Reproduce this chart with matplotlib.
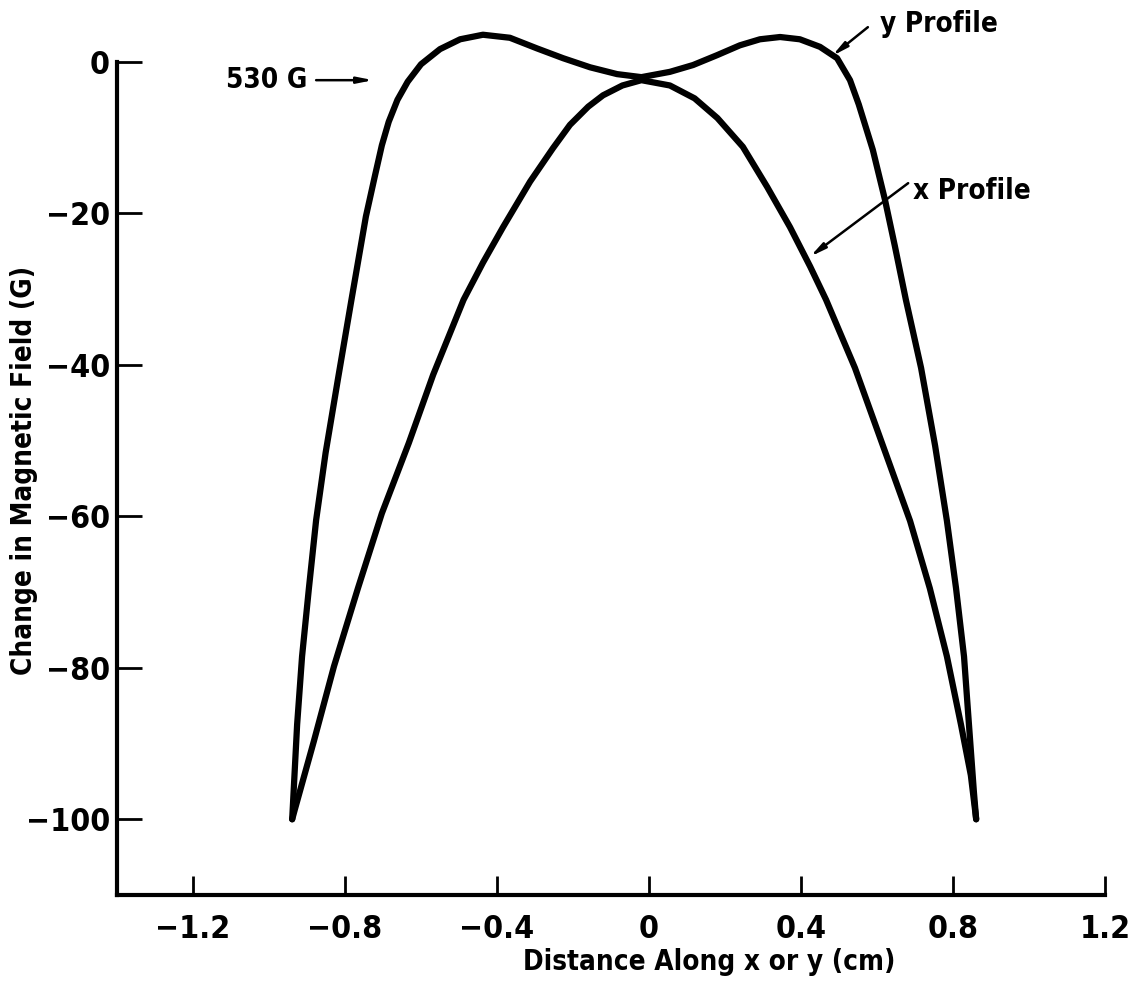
import matplotlib
matplotlib.use('Agg')
import matplotlib.pyplot as plt

y_prof_x = [-0.939, -0.926, -0.913, -0.895, -0.876, -0.851, -0.818, -0.783, -0.745,
            -0.722, -0.703, -0.685, -0.662, -0.635, -0.600, -0.550, -0.497, -0.437,
            -0.366, -0.295, -0.226, -0.155, -0.084, -0.020, 0.055, 0.116, 0.179,
            0.239, 0.292, 0.345, 0.397, 0.450, 0.495, 0.529, 0.552, 0.589, 0.621,
            0.647, 0.676, 0.716, 0.753, 0.784, 0.808, 0.829, 0.842, 0.855, 0.861]
y_prof_g = [-100, -87.5, -78.5, -69.5, -60.5, -51.6, -41.7, -31.4, -20.4,
            -15.2, -11.0, -7.9, -5.0, -2.6, -0.3, 1.7, 3.0, 3.6,
            3.2, 1.8, 0.5, -0.7, -1.6, -2.0, -1.3, -0.4, 0.9,
            2.2, 3.0, 3.3, 3.0, 2.0, 0.5, -2.4, -5.6, -11.6, -18.2,
            -24.3, -31.4, -40.4, -50.7, -60.6, -69.5, -78.5, -87.5, -96.4, -100]

x_prof_x = [-0.939, -0.932, -0.882, -0.829, -0.766, -0.703, -0.632, -0.568, -0.488,
            -0.437, -0.384, -0.313, -0.253, -0.208, -0.160, -0.121, -0.070, -0.020,
            0.055, 0.120, 0.180, 0.247, 0.311, 0.371, 0.424, 0.466, 0.542, 0.613,
            0.687, 0.739, 0.784, 0.821, 0.847, 0.861]
x_prof_g = [-100, -98.7, -89.7, -79.8, -69.5, -59.6, -50.3, -41.3, -31.4,
            -26.5, -21.8, -15.8, -11.4, -8.3, -5.9, -4.4, -3.1, -2.4,
            -3.1, -4.8, -7.4, -11.2, -16.5, -21.8, -27.0, -31.4, -40.4, -50.3,
            -60.6, -69.5, -78.5, -87.5, -94.2, -100]

x_ticks = [-1.2, -0.8, -0.4, 0, 0.4, 0.8, 1.2]
x_tick_labels = ['\u22121.2', '\u22120.8', '\u22120.4', '0', '0.4', '0.8', '1.2']
y_ticks = [0, -20, -40, -60, -80, -100]
y_tick_labels = ['0', '\u221220', '\u221240', '\u221260', '\u221280', '\u2212100']

plt.rcParams['font.family'] = ['DejaVu Sans']
plt.rcParams['font.stretch'] = 'condensed'
plt.rcParams['font.weight'] = 'bold'

fig = plt.figure(figsize=(11.37, 9.88), dpi=100)
ax = fig.add_axes([117 / 1137, 1 - 895 / 988, 988 / 1137, 833 / 988])

for xs, gs in [(y_prof_x, y_prof_g), (x_prof_x, x_prof_g)]:
    ax.plot(xs, gs, color='black', lw=4.5, solid_capstyle='round',
            solid_joinstyle='round', clip_on=False)

ax.set_xlim(-1.40, 1.2)
ax.set_ylim(-110, 0)

for side in ['top', 'right']:
    ax.spines[side].set_visible(False)
for side in ['left', 'bottom']:
    ax.spines[side].set_linewidth(3)

ax.set_xticks(x_ticks)
ax.set_xticklabels(x_tick_labels, fontsize=23, fontweight='bold')
ax.set_yticks(y_ticks)
ax.set_yticklabels(y_tick_labels, fontsize=23, fontweight='bold')
ax.tick_params(axis='x', direction='in', length=14, width=2, pad=14)
ax.tick_params(axis='y', direction='in', length=18, width=2, pad=5)

ax.set_xlabel('Distance Along x or y (cm)', fontsize=20, fontweight='bold')
ax.xaxis.set_label_coords(0.599, -0.064)
ax.set_ylabel('Change in Magnetic Field (G)', fontsize=20, fontweight='bold')
ax.yaxis.set_label_coords(-0.08, 0.51)

# annotations
arrow = dict(arrowstyle='-|>,head_width=0.18,head_length=0.9', lw=1.8,
             color='black', shrinkA=0, shrinkB=0)
ax.annotate('', xy=(-0.726, -2.4), xytext=(-0.876, -2.4), arrowprops=arrow,
            annotation_clip=False)
ax.text(-0.898, -2.4, '530 G', fontsize=20, fontweight='bold', ha='right',
        va='center', clip_on=False)

ax.annotate('', xy=(0.482, 0.8), xytext=(0.576, 4.6), arrowprops=arrow,
            annotation_clip=False)
ax.text(0.607, 5.0, 'y Profile', fontsize=20, fontweight='bold', ha='left',
        va='center', clip_on=False)

ax.annotate('', xy=(0.424, -25.7), xytext=(0.682, -16.0), arrowprops=arrow,
            annotation_clip=False)
ax.text(0.695, -17.0, 'x Profile', fontsize=20, fontweight='bold', ha='left',
        va='center', clip_on=False)

plt.savefig('out.png', dpi=100)
